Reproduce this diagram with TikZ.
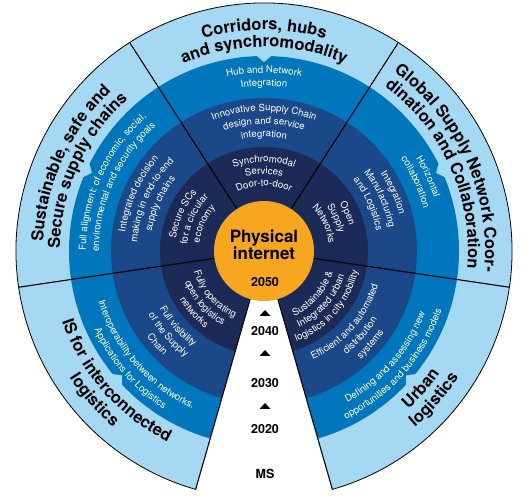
\documentclass[tikz,border=0pt]{standalone}
\usepackage{fontspec}
\setmainfont{TeX Gyre Heros}
\usetikzlibrary{decorations.text}
\definecolor{ringlight}{HTML}{A4D8F3}
\definecolor{ringmid}  {HTML}{0077BC}
\definecolor{ringdark} {HTML}{1B4889}
\definecolor{ringdeep} {HTML}{1B2A57}
\definecolor{coreorange}{HTML}{F6A71F}
\newcommand{\bandfont}{\fontsize{9.7}{11}\selectfont}
\newcommand{\ringfont}{\fontsize{16.5}{17}\selectfont\bfseries}
% text on an arc round the centre: #1 mid angle, #2 baseline radius, #3 text
\newcommand{\cwband}[3]{\path[decorate,decoration={text along path,text align=center,text color=white,text={|\bandfont|#3}}]
  ({#1+60}:#2) arc[start angle=#1+60,end angle=#1-60,radius=#2];}
\newcommand{\ccwband}[3]{\path[decorate,decoration={text along path,text align=center,text color=white,text={|\bandfont|#3}}]
  ({#1-60}:#2) arc[start angle=#1-60,end angle=#1+60,radius=#2];}
\newcommand{\cwring}[3]{\path[decorate,decoration={text along path,text align=center,text color=black,text={|\ringfont|#3}}]
  ({#1+60}:#2) arc[start angle=#1+60,end angle=#1-60,radius=#2];}
\newcommand{\ccwring}[3]{\path[decorate,decoration={text along path,text align=center,text color=black,text={|\ringfont|#3}}]
  ({#1-60}:#2) arc[start angle=#1-60,end angle=#1+60,radius=#2];}
\newcommand{\mstri}[1]{\fill (-4.5,#1-2.8) -- (6.5,#1-2.8) -- (1,#1+2.8) -- cycle;}

\begin{document}
\begin{tikzpicture}[x=1pt,y=1pt,
    divider/.style={black,line width=1.1pt},
    year/.style={font=\fontsize{12.5}{13}\selectfont\bfseries},
    core/.style={align=center,font=\fontsize{17}{17}\selectfont\bfseries}]
  \useasboundingbox (-264,-244) rectangle (260,251);
  % rings
  \fill[ringlight] (0,0) circle[radius=248];
  \fill[ringmid  ] (0,0) circle[radius=195];
  \foreach \a in {24.4,90,155.6,221.2,318.8}
    \fill[ringlight] ({\a-2.4}:196) -- ({\a+2.4}:196) -- (\a:189) -- cycle;
  \fill[ringdark ] (0,0) circle[radius=153];
  \fill[ringdeep ] (0,0) circle[radius=104];
  % milestone wedge
  \fill[white] (0,0) -- (254:252) arc[start angle=254,end angle=286,radius=252] -- cycle;
  \foreach \a in {351.6,57.2,122.8,188.4,254,286}
    \draw[divider] (\a:50) -- (\a:248);
  \draw[black,line width=0.8pt] (286:248) arc[start angle=286,end angle=614,radius=248];
  \fill[coreorange] (0,0) circle[radius=50];
  \node[core] (core) at (0,6) {Physical\\internet};
  % top
  \cwring{90}{221}{Corridors, hubs}
  \cwring{90}{204}{and synchromodality}
  \cwband{90}{178}{Hub and Network}
  \cwband{90}{165}{Integration}
  \cwband{90}{140}{Innovative Supply Chain}
  \cwband{90}{127}{design and service}
  \cwband{90}{114}{integration}
  \cwband{90}{89}{Synchromodal}
  \cwband{90}{77}{Services}
  \cwband{90}{65}{Door-to-door}
  % upper left
  \cwring{155.6}{221}{Sustainable, safe and}
  \cwring{155.6}{204}{Secure supply chains}
  \cwband{155.6}{178}{Full alignment: of economic, social,}
  \cwband{155.6}{165}{environmental and security goals}
  \cwband{155.6}{140}{Integrated decision}
  \cwband{155.6}{127}{making in end-to-end}
  \cwband{155.6}{114}{supply chains}
  \cwband{155.6}{89}{Secure SCs}
  \cwband{155.6}{77}{for a circular}
  \cwband{155.6}{65}{economy}
  % upper right
  \cwring{24.4}{221}{Global Supply Network Coor-}
  \cwring{24.4}{204}{dination and Collaboration}
  \cwband{24.4}{178}{Horizontal}
  \cwband{24.4}{165}{collaboration}
  \cwband{24.4}{140}{Integration}
  \cwband{24.4}{127}{Manufacturing}
  \cwband{24.4}{114}{and Logistics}
  \cwband{24.4}{89}{Open}
  \cwband{24.4}{77}{Supply}
  \cwband{24.4}{65}{Networks}
  % lower left
  \ccwring{221.2}{214}{IS for interconnected}
  \ccwring{221.2}{232}{logistics}
  \ccwband{221.2}{173}{Interoperability between networks.}
  \ccwband{221.2}{187}{Applications for Logistics}
  \ccwband{221.2}{119}{Full visibility}
  \ccwband{221.2}{132}{of the Supply}
  \ccwband{221.2}{145}{Chain}
  \ccwband{221.2}{73}{Fully operating}
  \ccwband{221.2}{85}{open logistics}
  \ccwband{221.2}{97}{networks}
  % lower right
  \ccwring{318.8}{214}{Urban}
  \ccwring{318.8}{232}{logistics}
  \ccwband{318.8}{173}{Defining and assessing new}
  \ccwband{318.8}{187}{opportunities and business models}
  \ccwband{318.8}{119}{Efficient and automated}
  \ccwband{318.8}{132}{distribution}
  \ccwband{318.8}{145}{systems}
  \ccwband{318.8}{72}{Sustainable {\&}}
  \ccwband{318.8}{84}{Integrated urban}
  \ccwband{318.8}{96}{logistics in city mobility}
  % milestones
  \node[year] (y2050) at (1,-31)  {2050};
  \mstri{-62}
  \node[year] (y2040) at (1,-80)  {2040};
  \mstri{-102}
  \node[year] (y2030) at (1,-132) {2030};
  \mstri{-155}
  \node[year] (y2020) at (1,-178) {2020};
  \node[year] (ms)    at (1,-223) {MS};
\end{tikzpicture}
\end{document}
